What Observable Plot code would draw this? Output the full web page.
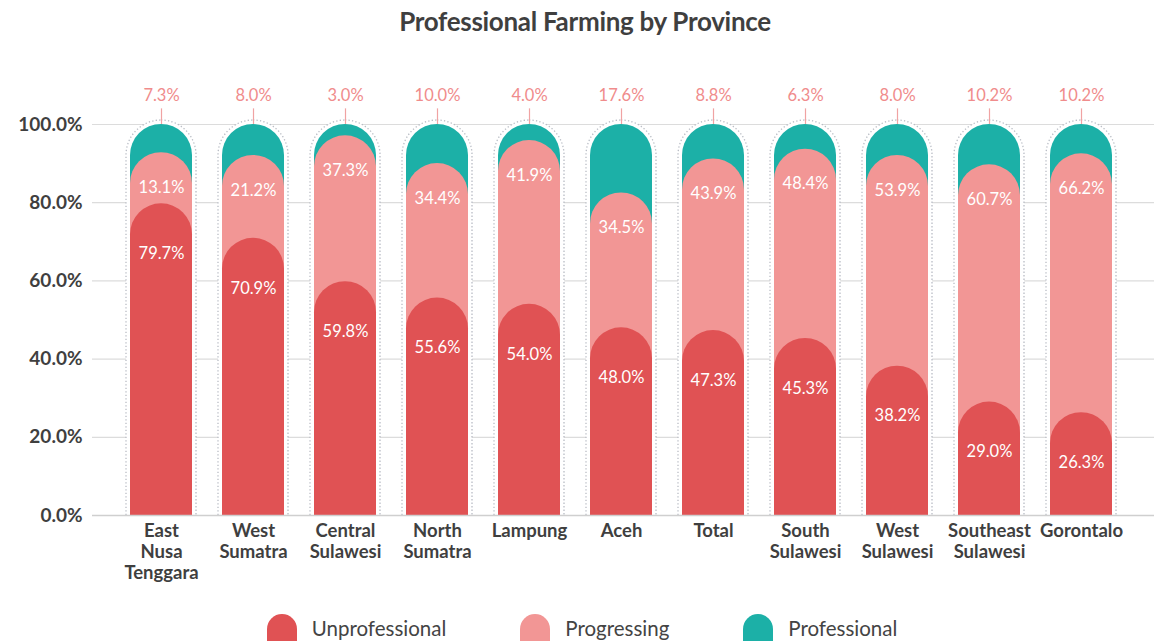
<!DOCTYPE html>
<html>
<head>
<meta charset="utf-8">
<script src="https://cdn.jsdelivr.net/npm/d3@7"></script>
<script src="https://cdn.jsdelivr.net/npm/@observablehq/plot@0.6"></script>
<style>
  html, body { margin: 0; padding: 0; background: #fff; }
  body { width: 1154px; height: 644px; overflow: hidden; font-family: Lato, "Open Sans", sans-serif; }
  #title { height: 50px; box-sizing: border-box; padding-top: 5px; text-align: center;
           font: bold 26px Lato, sans-serif; color: #3f3f3f; letter-spacing: -0.3px; padding-left: 16px; }
  #chart svg { display: block; }
  #legend { display: flex; justify-content: center; align-items: flex-end; height: 46px; padding-left: 10px; }
  .item { display: flex; align-items: flex-end; margin: 0 37px; }
  .dome { width: 30px; height: 27px; border-radius: 15px 15px 0 0; margin-right: 15px; }
  .lab { font: 20.5px Lato, sans-serif; color: #444; line-height: 26px; }
</style>
</head>
<body>
<div id="title">Professional Farming by Province</div>
<div id="chart"></div>
<div id="legend"></div>
<script>
const provinces = ["East Nusa Tenggara", "West Sumatra", "Central Sulawesi", "North Sumatra", "Lampung", "Aceh", "Total", "South Sulawesi", "West Sulawesi", "Southeast Sulawesi", "Gorontalo"];
const unprofessional = [79.7, 70.9, 59.8, 55.6, 54.0, 48.0, 47.3, 45.3, 38.2, 29.0, 26.3];
const progressing = [13.1, 21.2, 37.3, 34.4, 41.9, 34.5, 43.9, 48.4, 53.9, 60.7, 66.2];
const professional = [7.3, 8.0, 3.0, 10.0, 4.0, 17.6, 8.8, 6.3, 8.0, 10.2, 10.2];
const series = ["Unprofessional", "Progressing", "Professional"];
const colors = ["#e05254", "#f29695", "#1cb0a7"];
const yTicks = [0, 20, 40, 60, 80, 100];

const BASE = -12;      // extends bars below the frame so only the top corners stay rounded
const FULL = 100;      // every bar fills to 100%
const LEADER = 4;      // length of the leader line above 100%

const rows = provinces.map((p, i) => ({
  province: p,
  unprof: unprofessional[i],
  prog: progressing[i],
  prof: professional[i],
  top1: unprofessional[i],
  top2: Math.min(FULL, unprofessional[i] + progressing[i])
}));

const fmt = v => v.toFixed(1) + "%";

const chart = Plot.plot({
  width: 1154,
  height: 545,
  marginTop: 30,
  marginBottom: 80,
  marginLeft: 92,
  marginRight: 0,
  style: { fontFamily: "Lato, sans-serif", color: "#444", background: "#fff" },
  x: { domain: provinces, padding: 0.33, insetLeft: 4, insetRight: 8, label: null,
       tickSize: 0, tickPadding: 8, tickFormat: d => d.replace(/ /g, "\n") },
  y: { domain: [0, FULL], insetTop: 44, label: null, ticks: yTicks, tickSize: 0, tickPadding: 10,
       tickFormat: fmt },
  marks: [
    Plot.ruleY(yTicks.filter(d => d > 0), { stroke: "#dcdcdc", strokeWidth: 1.2 }),
    Plot.barY(rows, { x: "province", y1: BASE, y2: FULL, inset: -4, rx: 35, ry: 35,
                      fill: "#fff", stroke: "#b8bcc4", strokeWidth: 1.3, strokeDasharray: "1.3,2.2", clip: true }),
    Plot.barY(rows, { x: "province", y1: BASE, y2: FULL, rx: 31, ry: 31, fill: colors[2], clip: true }),
    Plot.barY(rows, { x: "province", y1: BASE, y2: "top2", rx: 31, ry: 31, fill: colors[1], clip: true }),
    Plot.barY(rows, { x: "province", y1: BASE, y2: "top1", rx: 31, ry: 31, fill: colors[0], clip: true }),
    Plot.ruleY([0], { stroke: "#cfcfcf", strokeWidth: 1.5 }),
    Plot.ruleX(rows, { x: "province", y1: FULL, y2: FULL + LEADER, stroke: "#f0a3a3", strokeWidth: 1.2 }),
    Plot.text(rows, { x: "province", y: FULL, dy: -29, text: d => fmt(d.prof), fill: "#f08c8c",
                      fontSize: 16.5 }),
    Plot.text(rows, { x: "province", y: "top2", dy: 35, text: d => fmt(d.prog), fill: "#fff",
                      fontSize: 16.5 }),
    Plot.text(rows, { x: "province", y: "top1", dy: 50, text: d => fmt(d.unprof), fill: "#fff",
                      fontSize: 16.5 })
  ]
});

chart.querySelectorAll('g[aria-label="y-axis tick label"] text').forEach(t => {
  t.style.fontWeight = "bold";
  t.style.fontSize = "19px";
  t.style.fill = "#3f3f3f";
});
chart.querySelectorAll('g[aria-label="x-axis tick label"] text').forEach(t => {
  t.style.fontWeight = "bold";
  t.style.fontSize = "18.5px";
  t.style.fill = "#3f3f3f";
});
chart.querySelectorAll('g[aria-label="x-axis tick label"] text tspan').forEach(t => {
  const dy = t.getAttribute("dy");
  if (dy && dy === "1em") t.setAttribute("dy", "1.15em");
});
document.getElementById("chart").append(chart);

const legend = document.getElementById("legend");
series.forEach((s, i) => {
  const item = document.createElement("div");
  item.className = "item";
  item.innerHTML = `<span class="dome" style="background:${colors[i]}"></span><span class="lab">${s}</span>`;
  legend.append(item);
});
</script>
</body>
</html>
